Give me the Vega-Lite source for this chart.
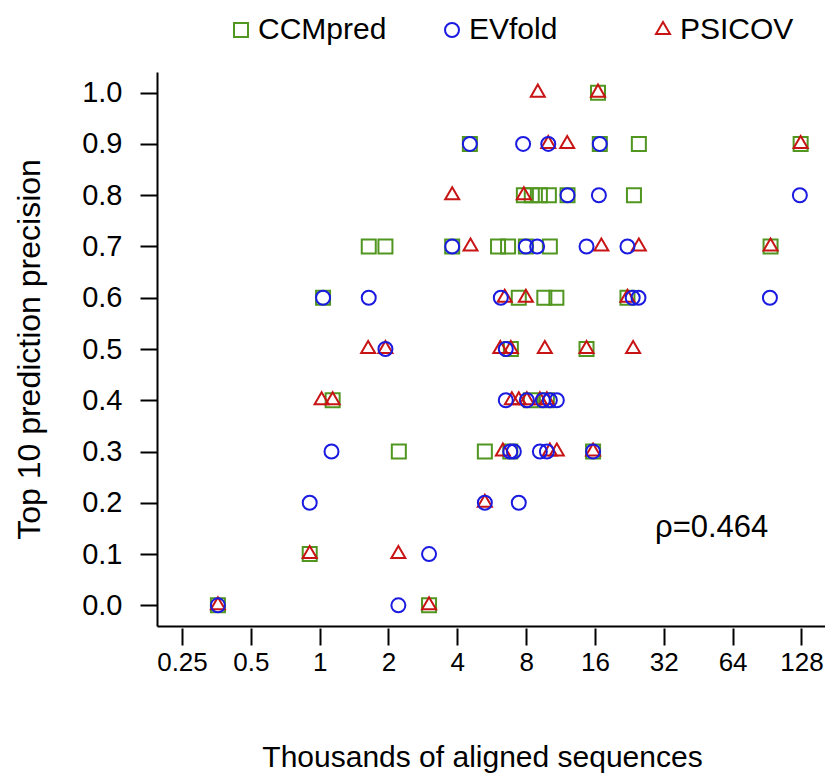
{
  "$schema": "https://vega.github.io/schema/vega-lite/v6.json",
  "width": 668,
  "height": 554,
  "autosize": {"type": "none"},
  "padding": {"left": 157, "top": 72, "right": 0, "bottom": 150},
  "background": "white",
  "config": {"view": {"stroke": null}, "font": "Liberation Sans"},
  "datasets": {
    "pts": [
      {"method": "CCMpred", "seqs": 16.5, "precision": 1.0},
      {"method": "CCMpred", "seqs": 4.54, "precision": 0.9},
      {"method": "CCMpred", "seqs": 16.8, "precision": 0.9},
      {"method": "CCMpred", "seqs": 24.9, "precision": 0.9},
      {"method": "CCMpred", "seqs": 127, "precision": 0.9},
      {"method": "CCMpred", "seqs": 7.82, "precision": 0.8},
      {"method": "CCMpred", "seqs": 8.47, "precision": 0.8},
      {"method": "CCMpred", "seqs": 9.19, "precision": 0.8},
      {"method": "CCMpred", "seqs": 10.06, "precision": 0.8},
      {"method": "CCMpred", "seqs": 12.14, "precision": 0.8},
      {"method": "CCMpred", "seqs": 23.7, "precision": 0.8},
      {"method": "CCMpred", "seqs": 1.64, "precision": 0.7},
      {"method": "CCMpred", "seqs": 1.94, "precision": 0.7},
      {"method": "CCMpred", "seqs": 3.8, "precision": 0.7},
      {"method": "CCMpred", "seqs": 6.03, "precision": 0.7},
      {"method": "CCMpred", "seqs": 6.67, "precision": 0.7},
      {"method": "CCMpred", "seqs": 7.98, "precision": 0.7},
      {"method": "CCMpred", "seqs": 10.16, "precision": 0.7},
      {"method": "CCMpred", "seqs": 93.8, "precision": 0.7},
      {"method": "CCMpred", "seqs": 1.035, "precision": 0.6},
      {"method": "CCMpred", "seqs": 7.43, "precision": 0.6},
      {"method": "CCMpred", "seqs": 9.61, "precision": 0.6},
      {"method": "CCMpred", "seqs": 10.85, "precision": 0.6},
      {"method": "CCMpred", "seqs": 22.2, "precision": 0.6},
      {"method": "CCMpred", "seqs": 6.86, "precision": 0.5},
      {"method": "CCMpred", "seqs": 14.7, "precision": 0.5},
      {"method": "CCMpred", "seqs": 1.14, "precision": 0.4},
      {"method": "CCMpred", "seqs": 8.39, "precision": 0.4},
      {"method": "CCMpred", "seqs": 9.86, "precision": 0.4},
      {"method": "CCMpred", "seqs": 2.22, "precision": 0.3},
      {"method": "CCMpred", "seqs": 5.28, "precision": 0.3},
      {"method": "CCMpred", "seqs": 6.82, "precision": 0.3},
      {"method": "CCMpred", "seqs": 15.7, "precision": 0.3},
      {"method": "CCMpred", "seqs": 0.905, "precision": 0.1},
      {"method": "CCMpred", "seqs": 0.359, "precision": 0.0},
      {"method": "CCMpred", "seqs": 3.01, "precision": 0.0},
      {"method": "PSICOV", "seqs": 9.0, "precision": 1.0},
      {"method": "PSICOV", "seqs": 16.5, "precision": 1.0},
      {"method": "PSICOV", "seqs": 10.0, "precision": 0.9},
      {"method": "PSICOV", "seqs": 12.1, "precision": 0.9},
      {"method": "PSICOV", "seqs": 127, "precision": 0.9},
      {"method": "PSICOV", "seqs": 3.8, "precision": 0.8},
      {"method": "PSICOV", "seqs": 7.82, "precision": 0.8},
      {"method": "PSICOV", "seqs": 4.57, "precision": 0.7},
      {"method": "PSICOV", "seqs": 17.07, "precision": 0.7},
      {"method": "PSICOV", "seqs": 24.9, "precision": 0.7},
      {"method": "PSICOV", "seqs": 93.8, "precision": 0.7},
      {"method": "PSICOV", "seqs": 6.45, "precision": 0.6},
      {"method": "PSICOV", "seqs": 7.98, "precision": 0.6},
      {"method": "PSICOV", "seqs": 22.2, "precision": 0.6},
      {"method": "PSICOV", "seqs": 1.63, "precision": 0.5},
      {"method": "PSICOV", "seqs": 1.94, "precision": 0.5},
      {"method": "PSICOV", "seqs": 6.17, "precision": 0.5},
      {"method": "PSICOV", "seqs": 6.86, "precision": 0.5},
      {"method": "PSICOV", "seqs": 9.66, "precision": 0.5},
      {"method": "PSICOV", "seqs": 14.7, "precision": 0.5},
      {"method": "PSICOV", "seqs": 23.5, "precision": 0.5},
      {"method": "PSICOV", "seqs": 1.02, "precision": 0.4},
      {"method": "PSICOV", "seqs": 1.14, "precision": 0.4},
      {"method": "PSICOV", "seqs": 6.93, "precision": 0.4},
      {"method": "PSICOV", "seqs": 7.43, "precision": 0.4},
      {"method": "PSICOV", "seqs": 8.06, "precision": 0.4},
      {"method": "PSICOV", "seqs": 9.19, "precision": 0.4},
      {"method": "PSICOV", "seqs": 9.86, "precision": 0.4},
      {"method": "PSICOV", "seqs": 6.33, "precision": 0.3},
      {"method": "PSICOV", "seqs": 10.16, "precision": 0.3},
      {"method": "PSICOV", "seqs": 10.9, "precision": 0.3},
      {"method": "PSICOV", "seqs": 15.7, "precision": 0.3},
      {"method": "PSICOV", "seqs": 5.28, "precision": 0.2},
      {"method": "PSICOV", "seqs": 0.905, "precision": 0.1},
      {"method": "PSICOV", "seqs": 2.21, "precision": 0.1},
      {"method": "PSICOV", "seqs": 0.359, "precision": 0.0},
      {"method": "PSICOV", "seqs": 3.01, "precision": 0.0},
      {"method": "EVfold", "seqs": 4.54, "precision": 0.9},
      {"method": "EVfold", "seqs": 7.76, "precision": 0.9},
      {"method": "EVfold", "seqs": 10.0, "precision": 0.9},
      {"method": "EVfold", "seqs": 16.8, "precision": 0.9},
      {"method": "EVfold", "seqs": 12.14, "precision": 0.8},
      {"method": "EVfold", "seqs": 16.65, "precision": 0.8},
      {"method": "EVfold", "seqs": 126, "precision": 0.8},
      {"method": "EVfold", "seqs": 3.8, "precision": 0.7},
      {"method": "EVfold", "seqs": 7.98, "precision": 0.7},
      {"method": "EVfold", "seqs": 8.94, "precision": 0.7},
      {"method": "EVfold", "seqs": 14.7, "precision": 0.7},
      {"method": "EVfold", "seqs": 22.2, "precision": 0.7},
      {"method": "EVfold", "seqs": 1.035, "precision": 0.6},
      {"method": "EVfold", "seqs": 1.64, "precision": 0.6},
      {"method": "EVfold", "seqs": 6.2, "precision": 0.6},
      {"method": "EVfold", "seqs": 23.4, "precision": 0.6},
      {"method": "EVfold", "seqs": 24.8, "precision": 0.6},
      {"method": "EVfold", "seqs": 93.2, "precision": 0.6},
      {"method": "EVfold", "seqs": 1.94, "precision": 0.5},
      {"method": "EVfold", "seqs": 6.52, "precision": 0.5},
      {"method": "EVfold", "seqs": 6.52, "precision": 0.4},
      {"method": "EVfold", "seqs": 8.06, "precision": 0.4},
      {"method": "EVfold", "seqs": 9.47, "precision": 0.4},
      {"method": "EVfold", "seqs": 10.16, "precision": 0.4},
      {"method": "EVfold", "seqs": 10.9, "precision": 0.4},
      {"method": "EVfold", "seqs": 1.127, "precision": 0.3},
      {"method": "EVfold", "seqs": 6.82, "precision": 0.3},
      {"method": "EVfold", "seqs": 7.07, "precision": 0.3},
      {"method": "EVfold", "seqs": 9.19, "precision": 0.3},
      {"method": "EVfold", "seqs": 9.86, "precision": 0.3},
      {"method": "EVfold", "seqs": 15.7, "precision": 0.3},
      {"method": "EVfold", "seqs": 0.905, "precision": 0.2},
      {"method": "EVfold", "seqs": 5.28, "precision": 0.2},
      {"method": "EVfold", "seqs": 7.43, "precision": 0.2},
      {"method": "EVfold", "seqs": 3.01, "precision": 0.1},
      {"method": "EVfold", "seqs": 0.359, "precision": 0.0},
      {"method": "EVfold", "seqs": 2.21, "precision": 0.0}
    ],
    "ann": [{"seqs": 29.3, "precision": 0.134, "label": "ρ=0.464"}]
  },
  "encoding": {
    "y": {
      "field": "precision",
      "type": "quantitative",
      "scale": {"domain": [-0.0404, 1.0404], "nice": false, "zero": false},
      "axis": {
        "values": [0, 0.1, 0.2, 0.3, 0.4, 0.5, 0.6, 0.7, 0.8, 0.9, 1.0],
        "format": ".1f",
        "grid": false,
        "domainColor": "black",
        "domainWidth": 2,
        "tickColor": "black",
        "tickWidth": 2,
        "tickSize": 17,
        "labelFont": "Liberation Sans",
        "labelFontSize": 29,
        "labelColor": "black",
        "labelPadding": 18,
        "title": "Top 10 prediction precision",
        "titleFont": "Liberation Sans",
        "titleFontSize": 32,
        "titleFontWeight": "normal",
        "titleColor": "black",
        "titleAngle": 270,
        "titleBaseline": "alphabetic",
        "titleX": -118,
        "titleY": 277
      }
    }
  },
  "layer": [
    {
      "data": {"name": "pts"},
      "mark": {"type": "point", "filled": false, "strokeWidth": 2, "opacity": 1},
      "encoding": {
        "x": {
          "field": "seqs",
          "type": "quantitative",
          "scale": {"type": "log", "base": 2, "domain": [0.1944, 162.3], "nice": false, "zero": false},
          "axis": {"orient": "bottom", "domain": true, "domainColor": "black", "domainWidth": 2, "ticks": false, "labels": false, "grid": false, "title": null}
        },
        "color": {
          "field": "method",
          "type": "nominal",
          "scale": {"domain": ["CCMpred", "EVfold", "PSICOV"], "range": ["#509620", "#1a1ae0", "#c81414"]},
          "legend": {
            "orient": "none",
            "legendX": 69,
            "legendY": -57,
            "direction": "horizontal",
            "title": null,
            "padding": 0,
            "labelFont": "Liberation Sans",
            "labelFontSize": 30,
            "labelColor": "black",
            "labelOffset": 2,
            "symbolSize": 150,
            "symbolStrokeWidth": 2,
            "symbolOpacity": 1,
            "columnPadding": 50,
            "gridAlign": "all"
          }
        },
        "shape": {
          "field": "method",
          "type": "nominal",
          "scale": {"domain": ["CCMpred", "EVfold", "PSICOV"], "range": ["square", "circle", "M0,-1.155L1,0.577L-1,0.577Z"]}
        },
        "size": {
          "field": "method",
          "type": "nominal",
          "scale": {"domain": ["CCMpred", "EVfold", "PSICOV"], "range": [196, 196, 400]},
          "legend": null
        }
      }
    },
    {
      "data": {"name": "ann"},
      "mark": {"type": "text", "align": "left", "baseline": "alphabetic", "fontSize": 31, "font": "Liberation Sans", "color": "black"},
      "encoding": {
        "x": {
          "field": "seqs",
          "type": "quantitative",
          "scale": {"type": "log", "base": 2, "domain": [0.1944, 162.3], "nice": false, "zero": false},
          "axis": {
            "orient": "bottom",
            "values": [0.25, 0.5, 1, 2, 4, 8, 16, 32, 64, 128],
            "format": "~g",
            "domain": false,
            "offset": 2,
            "grid": false,
            "tickSize": 17,
            "tickWidth": 2,
            "tickColor": "black",
            "labelFont": "Liberation Sans",
            "labelFontSize": 26,
            "labelColor": "black",
            "labelPadding": 4,
            "labelFlush": false,
            "labelOverlap": false,
            "title": "Thousands of aligned sequences",
            "titleFont": "Liberation Sans",
            "titleFontSize": 30,
            "titleFontWeight": "normal",
            "titleColor": "black",
            "titleBaseline": "alphabetic",
            "titleX": 325,
            "titleY": 138
          }
        },
        "text": {"field": "label"}
      }
    }
  ],
  "resolve": {"axis": {"x": "independent"}}
}
